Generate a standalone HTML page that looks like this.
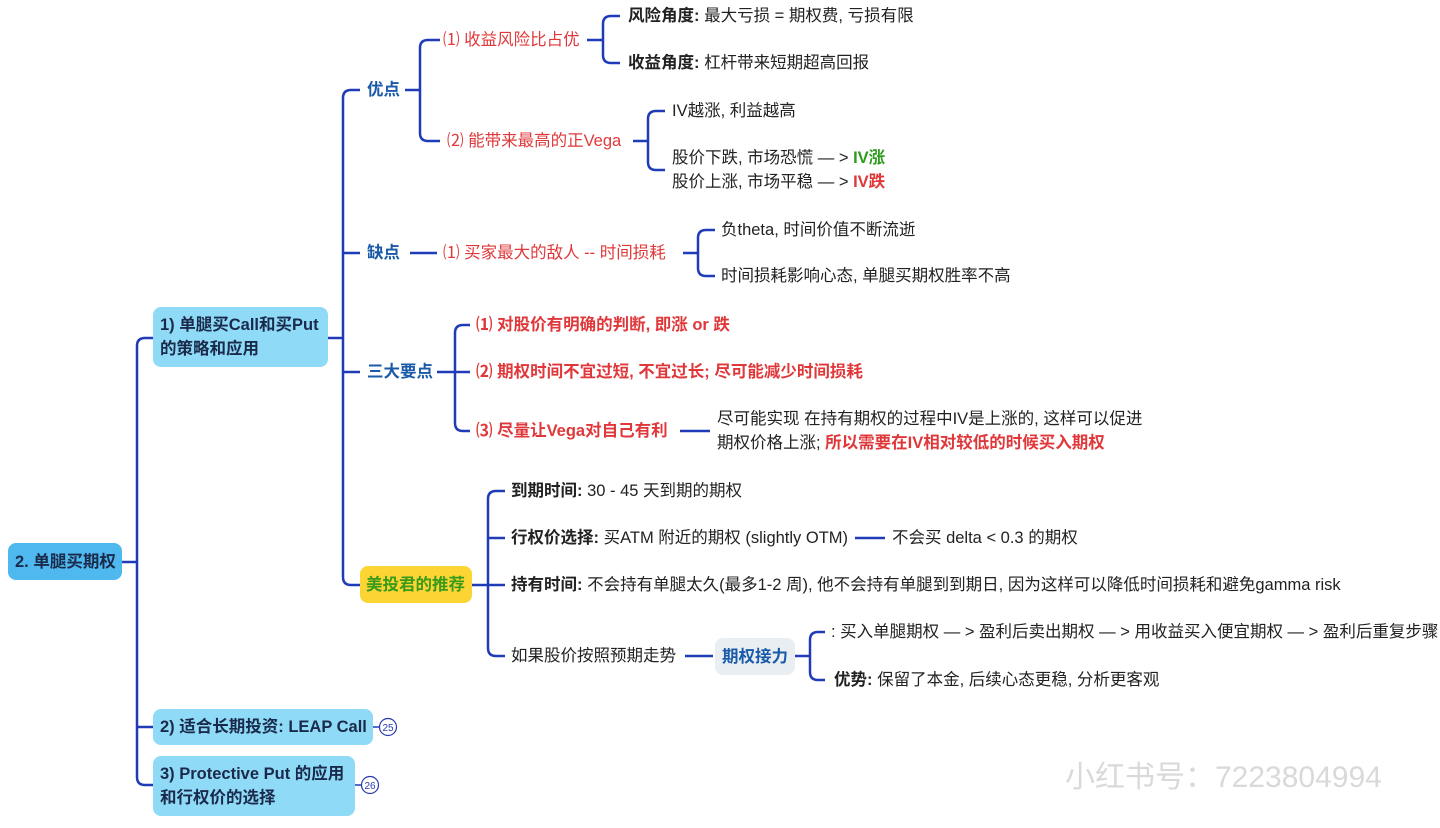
<!DOCTYPE html>
<html><head><meta charset="utf-8"><style>
body{margin:0;width:1440px;height:828px;background:#fff;position:relative;overflow:hidden;font-family:"Liberation Sans","Noto Sans CJK SC",sans-serif;font-size:16.5px;color:#222}
.t{position:absolute;line-height:20px;white-space:nowrap}
.b{font-weight:bold}
.r{color:#e0383a}
.bl{color:#1a5aa8;font-weight:bold}
.g{color:#2e9a1e;font-weight:bold}
.box{position:absolute;border-radius:8px;font-weight:bold;line-height:24px;box-sizing:border-box;white-space:nowrap}
svg{position:absolute;left:0;top:0}
</style></head><body>
<svg width="1440" height="828" fill="none" stroke="#1f3bb8" stroke-width="2.5">
<path d="M122 562 H137"/>
<path d="M153 338 H145 Q137 338 137 346 V777 Q137 785 145 785 H153"/>
<path d="M137 727 H153"/>
<path d="M328 338 H343"/>
<path d="M360 90 H351 Q343 90 343 98 V577 Q343 585 351 585 H360"/>
<path d="M343 253 H360 M343 372 H360"/>
<path d="M405 90 H420"/>
<path d="M440 40 H428 Q420 40 420 48 V133 Q420 141 428 141 H440"/>
<path d="M587 40 H603"/>
<path d="M620 16 H611 Q603 16 603 24 V55 Q603 63 611 63 H620"/>
<path d="M633 141 H648"/>
<path d="M665 111 H656 Q648 111 648 119 V162 Q648 170 656 170 H665"/>
<path d="M410 253 H437"/>
<path d="M683 253 H698"/>
<path d="M715 230 H706 Q698 230 698 238 V268 Q698 276 706 276 H715"/>
<path d="M437 372 H455"/>
<path d="M470 325 H463 Q455 325 455 333 V423 Q455 431 463 431 H470"/>
<path d="M455 372 H470"/>
<path d="M680 431 H710"/>
<path d="M472 585 H488"/>
<path d="M505 491 H496 Q488 491 488 499 V648 Q488 656 496 656 H505"/>
<path d="M488 538 H505 M488 585 H505"/>
<path d="M855 538 H885"/>
<path d="M685 656 H713"/>
<path d="M795 656 H810"/>
<path d="M825 632 H818 Q810 632 810 640 V672 Q810 680 818 680 H825"/>
<path d="M373 727 H380 M355 785 H362" stroke-width="1.5"/>
<circle cx="388" cy="727" r="8.5" stroke-width="1.2" stroke="#2a3ab0"/>
<circle cx="370" cy="785" r="8.5" stroke-width="1.2" stroke="#2a3ab0"/>
<text x="388" y="731" font-size="10" fill="#2a3ab0" stroke="none" text-anchor="middle" font-family="Liberation Sans">25</text>
<text x="370" y="789" font-size="10" fill="#2a3ab0" stroke="none" text-anchor="middle" font-family="Liberation Sans">26</text>
</svg>

<div class="box" style="left:8px;top:543px;width:114px;height:37px;background:#4fb8ee;padding:7px 7px;color:#1a2a4a">2. 单腿买期权</div>
<div class="box" style="left:153px;top:307px;width:175px;height:60px;background:#8fdaf6;padding:6px 7px;color:#1a2a4a">1) 单腿买Call和买Put<br>的策略和应用</div>
<div class="box" style="left:153px;top:709px;width:220px;height:36px;background:#8fdaf6;padding:6px 7px;color:#1a2a4a">2) 适合长期投资: LEAP Call</div>
<div class="box" style="left:153px;top:756px;width:202px;height:60px;background:#8fdaf6;padding:6px 7px;color:#1a2a4a">3) Protective Put 的应用<br>和行权价的选择</div>
<div class="box" style="left:360px;top:566px;width:112px;height:37px;background:#fcd535;padding:7px 6px;color:#3a9a1a">美投君的推荐</div>
<div class="box" style="left:715px;top:638px;width:80px;height:37px;background:#e8eef2;padding:7px 7px;color:#1a5aa8">期权接力</div>

<div class="t bl" style="left:367px;top:80px">优点</div>
<div class="t bl" style="left:367px;top:243px">缺点</div>
<div class="t bl" style="left:367px;top:362px">三大要点</div>

<div class="t r" style="left:443px;top:30px">⑴ 收益风险比占优</div>
<div class="t r" style="left:447px;top:131px">⑵ 能带来最高的正Vega</div>
<div class="t b" style="left:628px;top:6px">风险角度: <span style="font-weight:normal">最大亏损 = 期权费, 亏损有限</span></div>
<div class="t b" style="left:628px;top:53px">收益角度: <span style="font-weight:normal">杠杆带来短期超高回报</span></div>
<div class="t" style="left:672px;top:101px">IV越涨, 利益越高</div>
<div class="t" style="left:672px;top:148px">股价下跌, 市场恐慌 — &gt; <span class="g">IV涨</span></div>
<div class="t" style="left:672px;top:172px">股价上涨, 市场平稳 — &gt; <span class="r b">IV跌</span></div>

<div class="t r" style="left:443px;top:243px">⑴ 买家最大的敌人 -- 时间损耗</div>
<div class="t" style="left:721px;top:220px">负theta, 时间价值不断流逝</div>
<div class="t" style="left:721px;top:266px">时间损耗影响心态, 单腿买期权胜率不高</div>

<div class="t r b" style="left:476px;top:315px">⑴ 对股价有明确的判断, 即涨 or 跌</div>
<div class="t r b" style="left:476px;top:362px">⑵ 期权时间不宜过短, 不宜过长; 尽可能减少时间损耗</div>
<div class="t r b" style="left:476px;top:421px">⑶ 尽量让Vega对自己有利</div>
<div class="t" style="left:717px;top:409px">尽可能实现 在持有期权的过程中IV是上涨的, 这样可以促进</div>
<div class="t" style="left:717px;top:433px">期权价格上涨; <span class="r b">所以需要在IV相对较低的时候买入期权</span></div>

<div class="t b" style="left:511px;top:481px">到期时间: <span style="font-weight:normal">30 - 45 天到期的期权</span></div>
<div class="t b" style="left:511px;top:528px">行权价选择: <span style="font-weight:normal">买ATM 附近的期权 (slightly OTM)</span></div>
<div class="t" style="left:892px;top:528px">不会买 delta &lt; 0.3 的期权</div>
<div class="t b" style="left:511px;top:575px">持有时间: <span style="font-weight:normal"> 不会持有单腿太久(最多1-2 周), 他不会持有单腿到到期日, 因为这样可以降低时间损耗和避免gamma risk</span></div>
<div class="t" style="left:511px;top:646px">如果股价按照预期走势</div>
<div class="t" style="left:831px;top:622px">: 买入单腿期权 — &gt; 盈利后卖出期权 — &gt; 用收益买入便宜期权 — &gt; 盈利后重复步骤</div>
<div class="t b" style="left:834px;top:670px">优势: <span style="font-weight:normal">保留了本金, 后续心态更稳, 分析更客观</span></div>

<div class="t" style="left:1065px;top:760px;font-size:30px;line-height:36px;color:#d9d9d9">小红书号：7223804994</div>
</body></html>
